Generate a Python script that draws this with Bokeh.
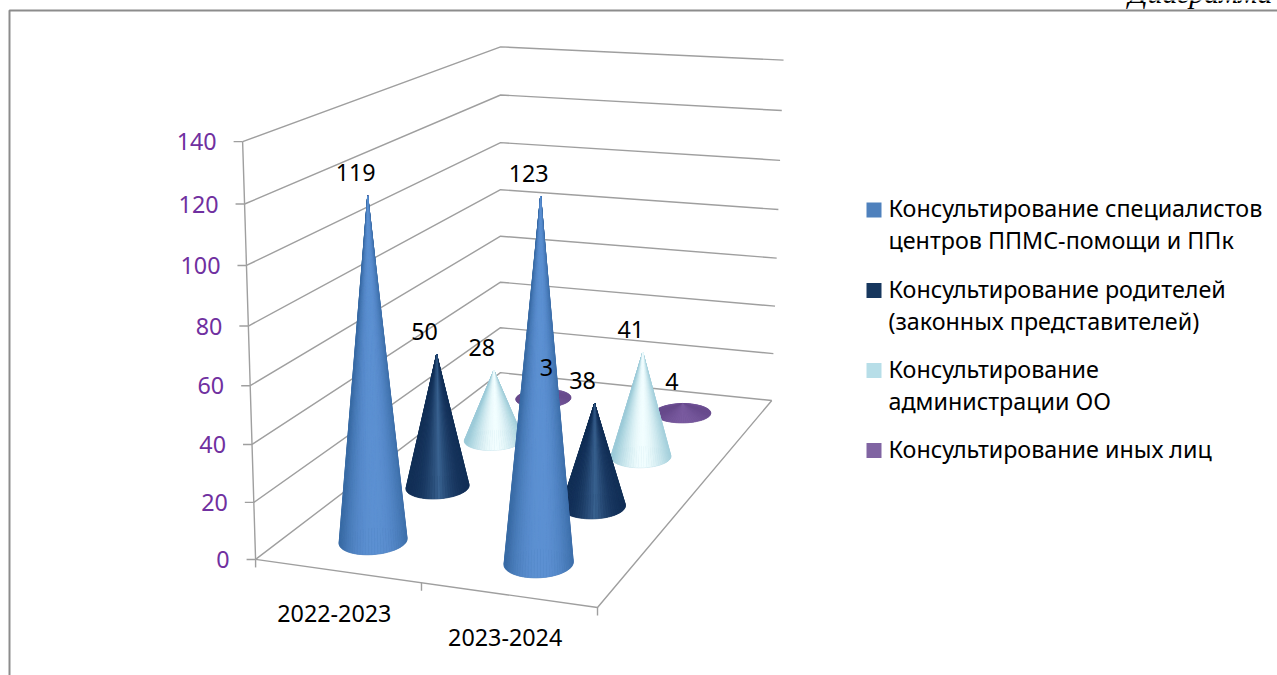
import numpy as np
from bokeh.plotting import figure, ColumnDataSource
from bokeh.models import Range1d
from bokeh.core.properties import value
from bokeh.embed import file_html
from bokeh.resources import INLINE

# ---- chart data ----
categories = ["2022-2023", "2023-2024"]
series_names = [
    ["Консультирование специалистов", "центров ППМС-помощи и ППк"],
    ["Консультирование родителей", "(законных представителей)"],
    ["Консультирование", "администрации ОО"],
    ["Консультирование  иных лиц"],
]
specialists = [119, 123]
parents = [50, 38]
administration = [28, 41]
others = [3, 4]
value_ticks = [0, 20, 40, 60, 80, 100, 120, 140]
title_text = "Диаграмма"

series_values = [specialists, parents, administration, others]

# ---- styles ----
FONT = "Noto Sans"
FS = "23.3px"
GRID = "#9f9f9f"
AXIS_TXT = "#7030a0"
SWATCH = ["#4f81bd", "#17375e", "#b7dee8", "#8064a2"]
EDGE = ["#3a6ca6", "#122f57", "#9ccbd8", "#674a8c"]
MID = ["#5c90d2", "#3a6391", "#f2feff", "#7a5ba0"]

# ---- camera: fitted to the frame of the 3-D box as it appears on the page ----
vmax = 140.0
calib = []
front_left = [(255, 559), (253, 502), (252, 444), (250, 385), (248, 326), (246, 265), (244, 203), (242, 141)]
back_left = [(500, 372), (500, 327), (500, 282), (500, 236), (500, 189), (500, 142), (500, 95), (500, 46)]
back_right = [(771, 400), (773, 353), (775, 306), (776, 257), (778, 209), (780, 160), (781, 110), (783, 60)]
for i, t in enumerate(value_ticks):
    calib.append(((0, 0, t), front_left[i]))
    calib.append(((0, 1, t), back_left[i]))
    calib.append(((1, 1, t), back_right[i]))
calib.append(((1, 0, 0), (597, 607)))
A = []
for (u, v, h), (x, y) in calib:
    h = h / vmax
    A.append([u, v, h, 1, 0, 0, 0, 0, -x * u, -x * v, -x * h, -x])
    A.append([0, 0, 0, 0, u, v, h, 1, -y * u, -y * v, -y * h, -y])
# weight the floor corner strongly since it is the only front-right point
A = np.array(A, float)
A[-2:] *= 6
P = np.linalg.svd(A)[2][-1].reshape(3, 4)


def proj(u, v, h):
    u, v, h = np.broadcast_arrays(np.asarray(u, float), np.asarray(v, float), np.asarray(h, float))
    w = np.stack([u, v, h / vmax, np.ones_like(u)])
    r = P @ w.reshape(4, -1)
    return (r[0] / r[2]).reshape(u.shape), (r[1] / r[2]).reshape(u.shape)


n_cat = len(categories)
n_ser = len(series_values)

p = figure(width=1277, height=675, output_backend="svg", toolbar_location=None,
           x_range=Range1d(0, 1277), y_range=Range1d(675, 0),
           x_axis_location=None, y_axis_location=None, min_border=0,
           outline_line_color=None, tools="")
p.grid.visible = False
p.background_fill_color = "white"
p.border_fill_color = "white"

# ---- page frame ----
p.line([9, 9, 1277], [675, 10, 10], line_color="#8c8c8c", line_width=2)
p.text([1272], [-8], text=[title_text], text_font=value("Liberation Serif"), text_font_style="italic",
       text_font_size="30px", text_align="right", text_baseline="alphabetic", text_color="black")

# ---- walls, floor, ticks ----
gx, gy = [], []
for t in value_ticks:
    x, y = proj([0, 0, 1], [0, 1, 1], [t, t, t])
    gx.append(list(x)); gy.append(list(y))
x, y = proj([0, 0], [0, 0], [0, vmax]); gx.append(list(x)); gy.append(list(y))
x, y = proj([0, 1, 1], [0, 0, 1], [0, 0, 0]); gx.append(list(x)); gy.append(list(y))
for i in range(n_cat + 1):
    x, y = proj(i / n_cat, 0, 0)
    gx.append([float(x), float(x)]); gy.append([float(y), float(y) + 8])
tx, ty = proj(np.zeros(len(value_ticks)), np.zeros(len(value_ticks)), np.array(value_ticks, float))
for a, b in zip(tx, ty):
    gx.append([float(a) - 9, float(a)]); gy.append([float(b), float(b)])
p.multi_line(gx, gy, line_color=GRID, line_width=1.4)

p.text(tx - 26, ty, text=[str(t) for t in value_ticks], text_font=value(FONT), text_font_size=FS,
       text_color=AXIS_TXT, text_align="right", text_baseline="middle")

# ---- cones, back row first ----
def hexmix(c1, c2, f):
    a = np.array([int(c1[i:i + 2], 16) for i in (1, 3, 5)], float)
    b = np.array([int(c2[i:i + 2], 16) for i in (1, 3, 5)], float)
    m = a + (b - a) * f
    return "#%02x%02x%02x" % tuple(int(round(k)) for k in m)


def shade(s, t):
    d = min(1.0, abs(t - 0.05))
    if s == 1:
        return (1 - d) ** 2.2
    if s == 0:
        return 1 - d ** 2.2
    return 1 - d ** 1.6


RAD_U = 0.094
RAD_V = 0.0563
xs, ys, cols = [], [], []
lx, ly, lt = [], [], []
for s in reversed(range(n_ser)):
    for c in range(n_cat):
        val = series_values[s][c]
        uc = (c + 0.5) / n_cat
        vc = (s + 0.5) / n_ser
        th = np.linspace(0, 2 * np.pi, 73)
        bu = uc + RAD_U * np.cos(th)
        bv = vc + RAD_V * np.sin(th)
        bx, by = proj(bu, bv, np.zeros_like(bu))
        ax, ay = proj(uc, vc, val)
        ax, ay = float(ax), float(ay)
        cx, halfw = (bx.max() + bx.min()) / 2, (bx.max() - bx.min()) / 2
        segs = []
        for k in range(72):
            mx = (bx[k] + bx[k + 1]) / 2
            my = (by[k] + by[k + 1]) / 2
            segs.append((my, k, mx))
        segs.sort()
        # base disc
        xs.append(list(bx)); ys.append(list(by)); cols.append(EDGE[s])
        for my, k, mx in segs:
            t = (mx - cx) / halfw
            xs.append([ax, float(bx[k]), float(bx[k + 1])])
            ys.append([ay, float(by[k]), float(by[k + 1])])
            cols.append(hexmix(EDGE[s], MID[s], shade(s, t)))
        lx.append(ax); ly.append(ay); lt.append(str(val))

src = ColumnDataSource(dict(xs=xs, ys=ys, c=cols))
p.patches("xs", "ys", source=src, fill_color="c", line_color="c", line_width=0.4)

# ---- value labels ----
off_x = {"3": 3, "4": -11}
off_y = {"3": -24, "4": -22}
p.text(lx, ly, text=lt, text_font=value(FONT), text_font_size=FS, text_color="black",
       text_align="center", text_baseline="middle",
       x_offset=[off_x.get(t, -12) for t in lt], y_offset=[off_y.get(t, -23) for t in lt])

# ---- category labels ----
cu = [(i + 0.5) / n_cat for i in range(n_cat)]
cx_, cy_ = proj(cu, [0] * n_cat, [0] * n_cat)
p.text(cx_, cy_, text=categories, text_font=value(FONT), text_font_size=FS, text_color="black",
       text_align="center", text_baseline="middle", x_offset=-3, y_offset=43)

# ---- legend ----
legend_top = [209.5, 290, 370, 450]
line_gap = 32
for i, names in enumerate(series_names):
    y0 = legend_top[i]
    p.rect([873.5], [y0], width=15, height=15, fill_color=SWATCH[i], line_color=None)
    p.text([888] * len(names), [y0 - 2 + j * line_gap for j in range(len(names))], text=names,
           text_font=value(FONT), text_font_size=FS, text_color="black",
           text_align="left", text_baseline="middle")

open("out.html", "w").write(file_html(p, INLINE))
